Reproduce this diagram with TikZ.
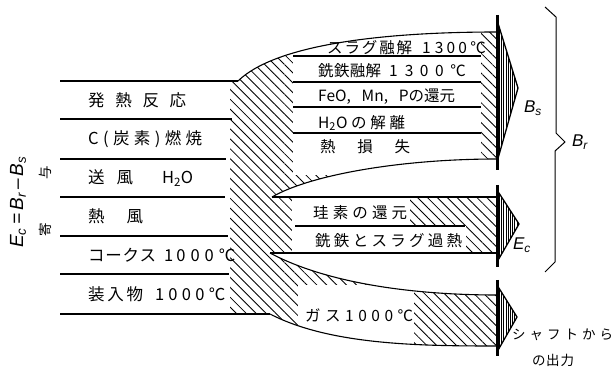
\documentclass[tikz,border=0pt]{standalone}
\usepackage{fontspec}
\newfontfamily\jp{Noto Sans CJK JP}
\newfontfamily\lab{Liberation Sans}
\usetikzlibrary{patterns.meta}
\newcommand\gp{\hfil}
\newcommand\spr[2]{\makebox[#1pt][s]{#2}}
\begin{document}
\begin{tikzpicture}[x=1pt,y=-1pt,
  txt/.style={anchor=west,inner sep=0pt,font=\jp\fontsize{15.5}{17}\selectfont},
  bigtxt/.style={anchor=west,inner sep=0pt,font=\jp\fontsize{16.5}{18}\selectfont},
  smalltxt/.style={inner sep=0pt,font=\jp\fontsize{13.5}{15}\selectfont},
  lbl/.style={inner sep=0pt,font=\lab\itshape\fontsize{17}{19}\selectfont},
  eqlbl/.style={inner sep=0pt,font=\lab\itshape\fontsize{19}{21}\selectfont},
  edge/.style={line width=1.1pt},
  hatch/.style={pattern={Lines[angle=-45,distance=7pt,line width=0.85pt]}},
  headfill/.style={pattern={Lines[angle=90,distance=2.2pt,line width=1pt]}},
  head/.style={line width=1.3pt,line join=round},
  bar/.style={line width=3pt}]
\useasboundingbox (0,0) rectangle (616,374);
\fill[white] (0,0) rectangle (616,374);

\def\bandpath{(230,81) -- (238,81) .. controls (275,45) and (380,32) .. (497,32) -- (497,159) .. controls (400,159) and (310,175) .. (272,197) -- (497,197) -- (497,253) -- (270,253) .. controls (330,285) and (420,295) .. (497,295) -- (497,346) .. controls (420,346) and (330,345) .. (270,314) -- (230,314) -- cycle}

% hatching
\path[hatch] \bandpath;
\begin{scope}
  \clip \bandpath;
  \fill[white] (293,15) rectangle (481,175);
  \fill[white] (292,197) rectangle (410,226);
  \fill[white] (292,226) rectangle (466,253);
  \fill[white] (298,285) rectangle (414,352);
\end{scope}

% named points
\coordinate (ut0) at (238,81);   \coordinate (ut1) at (497,32);
\coordinate (ub0) at (272,197);  \coordinate (ub1) at (497,159);
\coordinate (mt1) at (497,197);
\coordinate (mb0) at (270,253);  \coordinate (mb1) at (497,253);
\coordinate (lt1) at (497,295);
\coordinate (lb0) at (270,314);  \coordinate (lb1) at (497,346);

% band edges
\draw[edge] (ut0) .. controls (275,45) and (380,32) .. (ut1);
\draw[edge] (ub0) .. controls (310,175) and (400,159) .. (ub1);
\draw[edge] (ub0) -- (mt1);
\draw[edge] (mb0) -- (mb1);
\draw[edge] (mb0) .. controls (330,285) and (420,295) .. (lt1);
\draw[edge] (lb0) .. controls (330,345) and (420,346) .. (lb1);

% left lines
\draw[edge] (60,81) -- (ut0);
\draw[edge] (60,119) -- (232,119);
\draw[edge] (60,159) -- (226,159);
\draw[edge] (60,197) -- (225,197);
\draw[edge] (60,236) -- (228,236);
\draw[edge] (60,274) -- (229,274);
\draw[edge] (60,314) -- (lb0);

% inner lines
\foreach \yy in {56,82,107,133} \draw[edge] (293,\yy) -- (481,\yy);
\draw[edge] (295,226) -- (465,226);

% arrow heads
\path[headfill] (497,20) -- (518,88) -- (497,162) -- cycle;
\draw[head] (497,20) -- (518,88) -- (497,162);
\draw[bar] (497,15) -- (497,170);
\path[headfill] (497,190) -- (519,224) -- (497,262) -- cycle;
\draw[head] (497,190) -- (519,224) -- (497,262);
\draw[bar] (497,185) -- (497,267);
\path[headfill] (497,285) -- (517,317) -- (497,352) -- cycle;
\draw[head] (497,285) -- (517,317) -- (497,352);
\draw[bar] (497,280) -- (497,356);

% brace
\draw[line width=1pt] (545,7) -- (556,17) -- (556,133) -- (565,142) -- (555,151) -- (555,262) -- (545,272);

% left texts
\node[bigtxt] (t1) at (88,100) {\spr{98}{発\gp 熱\gp 反\gp 応}};
\node[bigtxt] (t2) at (88,139) {\spr{114}{C\gp (\gp 炭\gp 素\gp )\gp 燃\gp 焼}};
\node[bigtxt] (t3) at (88,178) {\spr{105}{送\hspace{12pt}風\gp H\textsubscript{2}O}};
\node[bigtxt] (t4) at (88,216) {\spr{55}{熱\gp 風}};
\node[bigtxt] (t5) at (88,255) {\spr{68}{コ\gp ー\gp ク\gp ス}\hspace{8pt}1\hspace{3pt}\spr{59}{0\gp 0\gp 0\gp ℃}};
\node[bigtxt] (t6) at (88,294) {\spr{55}{装\gp 入\gp 物}\hspace{12pt}1\hspace{4pt}\spr{57}{0\gp 0\gp 0\gp ℃}};

% upper branch texts
\node[txt] (u1) at (327,48) {\spr{85}{ス\gp ラ\gp グ\gp 融\gp 解}\hspace{10pt}1\hspace{4pt}\spr{51}{3\gp 0\gp 0\gp ℃}};
\node[txt] (u2) at (318,71) {\spr{63}{銑\gp 鉄\gp 融\gp 解}\hspace{8pt}1\hspace{7pt}\spr{61}{3\gp 0\gp 0\gp ℃}};
\node[txt] (u3) at (318,97) {\spr{137}{FeO,\gp Mn,\gp Pの還元}};
\node[txt] (u4) at (318,123) {\spr{87}{H\textsubscript{2}O\gp の\gp 解\gp 離}};
\node[txt] (u5) at (320,147) {\spr{90}{熱\gp 損\gp 失}};

% middle branch texts
\node[txt] (m1) at (313,213) {\spr{94}{珪\gp 素\gp の\gp 還\gp 元}};
\node[txt] (m2) at (315,241) {\spr{147}{銑\gp 鉄\gp と\gp ス\gp ラ\gp グ\gp 過\gp 熱}};

% lower branch text
\node[txt] (g1) at (305,315) {\spr{108}{ガ\gp ス\gp 1\gp 0\gp 0\gp 0\gp ℃}};

% output text
\node[smalltxt,anchor=west] (o1) at (512,335) {\spr{101}{シ\gp ャ\gp フ\gp ト\gp か\gp ら}};
\node[smalltxt] (o2) at (553,360) {\spr{42}{の\gp 出\gp 力}};

% labels
\node[lbl] (bs) at (533,108) {B\textsubscript{s}};
\node[lbl] (br) at (580,142) {B\textsubscript{r}};
\node[lbl] (ec) at (522,245) {E\textsubscript{c}};

% left rotated
\node[eqlbl,rotate=90] (eq) at (18,202) {E\textsubscript{c}\,=\,B\textsubscript{r}\,\textendash\,B\textsubscript{s}};
\node[smalltxt,rotate=90] (k1) at (45,230) {寄};
\node[smalltxt,rotate=90] (k2) at (45,173) {与};
\end{tikzpicture}
\end{document}
